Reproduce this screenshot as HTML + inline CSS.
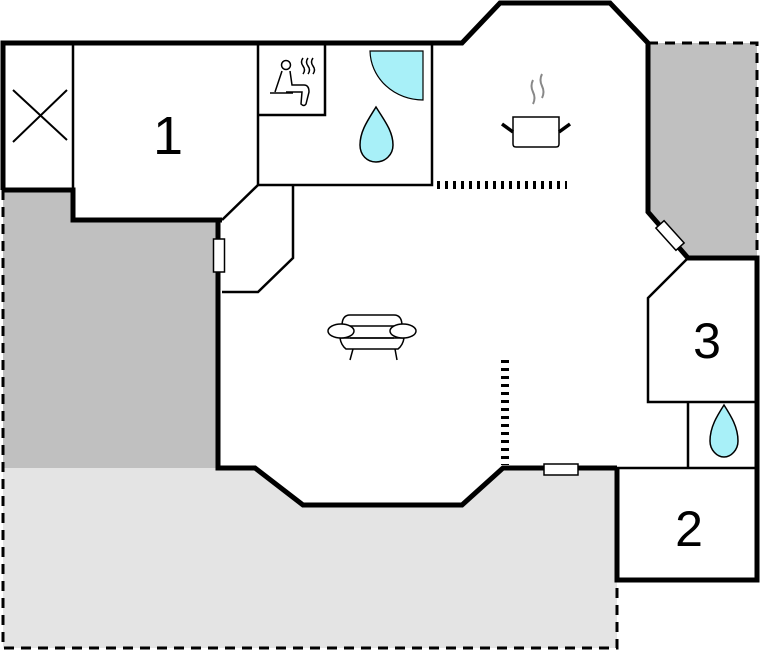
<!DOCTYPE html>
<html><head><style>body{margin:0;background:#fff}svg{display:block}text{font-family:"Liberation Sans",sans-serif}</style></head><body>
<svg width="762" height="652" viewBox="0 0 762 652">
<path d="M3 190 H73 V220 H218 V468 H3 Z" fill="#c0c0c0"/>
<path d="M648 43 H757 V258 H688 L648 212 Z" fill="#c0c0c0"/>
<path d="M3 468 H218 L255 468 L303 505 H462 L503 468 H617 V648 H3 Z" fill="#e4e4e4"/>
<g fill="none" stroke="#000" stroke-width="3" stroke-dasharray="10 7">
<path d="M3 190 V648 H617 V580"/>
<path d="M648 43 H757 V258"/>
</g>
<g fill="none" stroke="#000" stroke-width="2.5">
<path d="M73 43 V190"/>
<path d="M258 43 V185 H432 V43"/>
<path d="M258 115 H325 V43"/>
<path d="M258 185 L222 220"/>
<path d="M293 185 V258 L258 292 H222"/>
<path d="M688 258 L648 298 V402 H757"/>
<path d="M688 402 V468"/>
<path d="M617 468 H757"/>
</g>
<g fill="none" stroke="#000" stroke-width="5" stroke-linejoin="miter">
<path d="M3 190 V43 H462 L500 3 H610 L648 43 V212 L688 258 H757 V580 H617 V468"/>
<path d="M3 190 H73 V220 H222"/>
<path d="M218 220 V468 H255 L303 505 H462 L503 468 H617"/>
</g>
<path d="M437 185 H567" stroke="#000" stroke-width="8" stroke-dasharray="3 5"/>
<path d="M505 360 V465" stroke="#000" stroke-width="8" stroke-dasharray="3 5"/>
<rect x="213.5" y="239" width="11" height="33" fill="#fff" stroke="#000" stroke-width="1.5"/>
<rect x="544" y="464" width="34" height="11" fill="#fff" stroke="#000" stroke-width="1.5"/>
<rect x="655" y="230" width="30" height="11" fill="#fff" stroke="#000" stroke-width="1.5" transform="rotate(48 670 235.5)"/>
<path d="M13 90 L67 140 M67 90 L13 142" stroke="#000" stroke-width="2"/>
<text x="168" y="154" font-size="54" text-anchor="middle">1</text>
<text x="707" y="358" font-size="50" text-anchor="middle">3</text>
<text x="689" y="546" font-size="50" text-anchor="middle">2</text>
<path d="M370 51 H423 V100 A53 50 0 0 1 370 51 Z" fill="#a8f0f8" stroke="#000" stroke-width="1.2"/>
<path d="M376 107 C384 120 393 131 393 145 C393 155 385 162 376 162 C367 162 360 155 360 145 C360 131 368 120 376 107 Z" fill="#a8f0f8" stroke="#000" stroke-width="1.5"/>
<path d="M724 405 C731 416 738 427 738 441 C738 450 731 457 724 457 C717 457 710 450 710 441 C710 427 717 416 724 405 Z" fill="#a8f0f8" stroke="#000" stroke-width="1.5"/>
<g fill="none" stroke="#000" stroke-width="1.5">
<circle cx="286" cy="65" r="4.5"/>
<path d="M282 71 L275 92 M290 71 L292 85 H304 Q309 85 309 92 L306 104 Q304 107 301 104 L302 92 H288 L286 92"/>
<path d="M270 93 H293"/>
<path d="M303 58 q-3 4 0 8 q3 4 0 8 M308 58 q-3 4 0 8 q3 4 0 8 M313 58 q-3 4 0 8 q3 4 0 8"/>
</g>
<g fill="none" stroke="#000" stroke-width="1.5">
<path d="M513 117 H559 V144 Q559 147 556 147 H516 Q513 147 513 144 Z" fill="#fff"/>
<path d="M502 124 L513 132 M570 124 L559 132" stroke-width="3.5"/>
<path d="M533 80 q-3 6 0 12 q3 6 0 12 M542 74 q-3 6 0 12 q3 6 0 12" stroke="#888" stroke-width="2"/>
</g>
<g fill="#fff" stroke="#000" stroke-width="1.5">
<path d="M340 338 Q341 345 346 349 H398 Q403 345 404 338 Z"/>
<path d="M342 326 Q342 315 350 315 H394 Q402 315 402 326 Z"/>
<ellipse cx="341" cy="331" rx="13" ry="7"/>
<ellipse cx="403" cy="331" rx="13" ry="7"/>
<path d="M350 338 H394" fill="none"/>
<path d="M353 349 L350 360 M395 349 L397 360" fill="none"/>
</g>
</svg>
</body></html>
